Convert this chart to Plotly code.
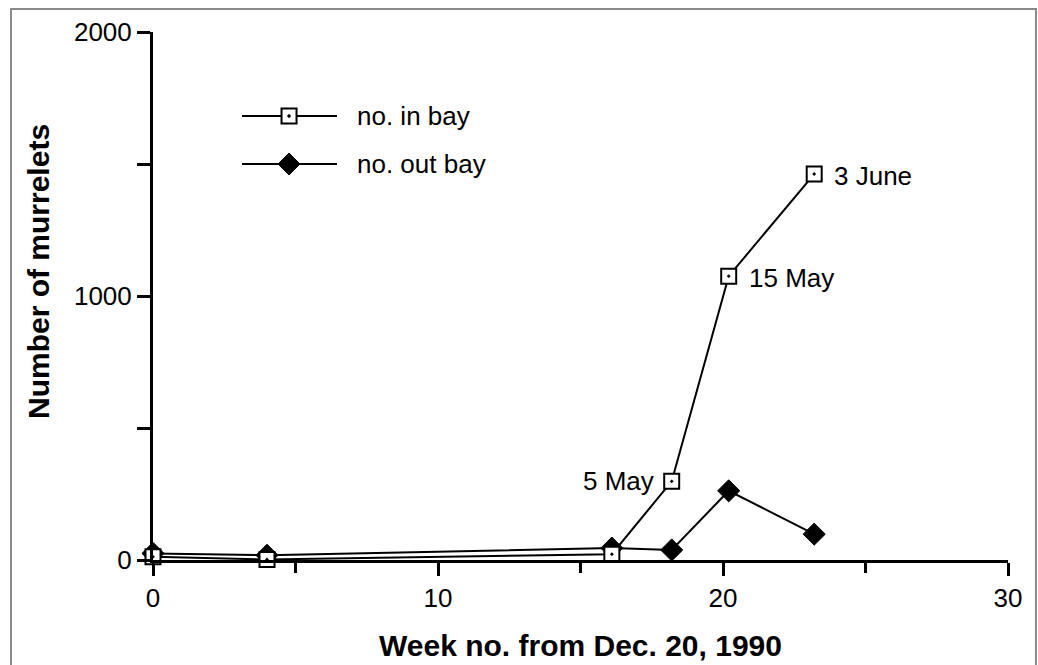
import plotly.graph_objects as go

# Data
weeks = [0, 4, 16.1, 18.2, 20.2, 23.2]
in_bay = [12, 2, 22, 298, 1075, 1462]
out_bay = [25, 18, 45, 38, 262, 98]
date_labels = {3: "5 May", 4: "15 May", 5: "3 June"}

x_ticks = [0, 10, 20, 30]
y_ticks = [0, 1000, 2000]

FONT = "Liberation Sans, Arial, Helvetica, sans-serif"

fig = go.Figure()

fig.add_trace(go.Scatter(
    x=weeks, y=out_bay, mode="lines+markers", name="no. out bay",
    line=dict(color="black", width=2),
    marker=dict(symbol="diamond", size=17, color="black", line=dict(color="black", width=1)),
    cliponaxis=False, showlegend=False))

fig.add_trace(go.Scatter(
    x=weeks, y=in_bay, mode="lines+markers", name="no. in bay",
    line=dict(color="black", width=2),
    marker=dict(symbol="square-dot", size=15, color="white", line=dict(color="black", width=2)),
    cliponaxis=False, showlegend=False))

annotations = []
# date labels
for i, txt in date_labels.items():
    if i == 3:
        annotations.append(dict(x=weeks[i], y=in_bay[i], text=txt, showarrow=False,
                                xanchor="right", xshift=-16, yshift=0,
                                font=dict(family=FONT, size=26, color="black")))
    else:
        annotations.append(dict(x=weeks[i], y=in_bay[i], text=txt, showarrow=False,
                                xanchor="left", xshift=18, yshift=-2,
                                font=dict(family=FONT, size=26, color="black")))

# axis titles
annotations.append(dict(xref="paper", yref="paper", x=0.5, y=0, yshift=-85,
                        text="<b>Week no. from Dec. 20, 1990</b>", showarrow=False,
                        xanchor="center", yanchor="middle",
                        font=dict(family=FONT, size=30, color="black")))
annotations.append(dict(xref="paper", yref="paper", x=0, xshift=-115, y=0.5, yshift=24,
                        text="<b>Number of murrelets</b>", showarrow=False, textangle=-90,
                        xanchor="center", yanchor="middle",
                        font=dict(family=FONT, size=30, color="black")))

# manual legend
leg_x0, leg_x1, leg_xm, leg_tx = 0.1041, 0.2152, 0.1591, 0.2363
leg_y = [0.8409, 0.75]
annotations.append(dict(xref="paper", yref="paper", x=leg_tx, y=leg_y[0], text="no. in bay",
                        showarrow=False, xanchor="left", yanchor="middle",
                        font=dict(family=FONT, size=26, color="black")))
annotations.append(dict(xref="paper", yref="paper", x=leg_tx, y=leg_y[1], text="no. out bay",
                        showarrow=False, xanchor="left", yanchor="middle",
                        font=dict(family=FONT, size=26, color="black")))

shapes = []
for yy in leg_y:
    shapes.append(dict(type="line", xref="paper", yref="paper", x0=leg_x0, x1=leg_x1,
                       y0=yy, y1=yy, line=dict(color="black", width=2)))
shapes.append(dict(type="rect", xref="paper", yref="paper", xsizemode="pixel", ysizemode="pixel",
                   xanchor=leg_xm, yanchor=leg_y[0], x0=-7.5, x1=7.5, y0=-7.5, y1=7.5,
                   fillcolor="white", line=dict(color="black", width=2)))
shapes.append(dict(type="circle", xref="paper", yref="paper", xsizemode="pixel", ysizemode="pixel",
                   xanchor=leg_xm, yanchor=leg_y[0], x0=-1.5, x1=1.5, y0=-1.5, y1=1.5,
                   fillcolor="black", line=dict(color="black", width=0.5)))
shapes.append(dict(type="path", xref="paper", yref="paper", xsizemode="pixel", ysizemode="pixel",
                   xanchor=leg_xm, yanchor=leg_y[1],
                   path="M -11 0 L 0 11 L 11 0 L 0 -11 Z",
                   fillcolor="black", line=dict(color="black", width=1)))
# outer frame
shapes.append(dict(type="rect", xref="paper", yref="paper", x0=-0.1661, x1=1.0327,
                   y0=-0.25, y1=1.0436, line=dict(color="#8a8a8a", width=2), layer="below"))

fig.update_layout(
    width=1038, height=665,
    margin=dict(l=153, r=30, t=32, b=105),
    paper_bgcolor="white", plot_bgcolor="white",
    font=dict(family=FONT, size=26, color="black"),
    showlegend=False,
    annotations=annotations,
    shapes=shapes,
)

fig.update_xaxes(range=[0, 30], tickvals=x_ticks, ticks="outside", ticklen=13, tickwidth=3,
                 tickcolor="black", showline=True, linecolor="black", linewidth=3,
                 showgrid=False, zeroline=False,
                 minor=dict(tickvals=[5, 15, 25], ticks="outside", ticklen=10, tickwidth=3,
                            tickcolor="black", showgrid=False),
                 tickfont=dict(family=FONT, size=26, color="black"))
fig.update_yaxes(range=[0, 2000], tickvals=y_ticks, ticks="outside", ticklen=13, tickwidth=3,
                 tickcolor="black", showline=True, linecolor="black", linewidth=3,
                 showgrid=False, zeroline=False,
                 minor=dict(tickvals=[500, 1500], ticks="outside", ticklen=13, tickwidth=3,
                            tickcolor="black", showgrid=False),
                 tickfont=dict(family=FONT, size=26, color="black"))

fig.write_html("out.html", config={"displayModeBar": False},
               post_script="document.body.style.margin='0px';document.body.style.overflow='hidden';")
